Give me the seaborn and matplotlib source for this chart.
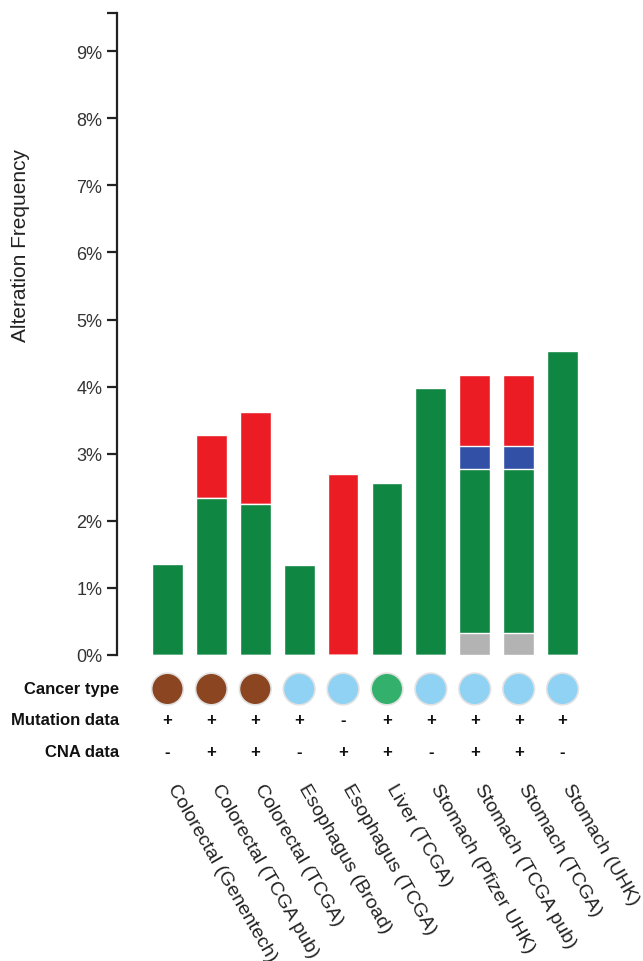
import matplotlib
matplotlib.use("Agg")
import matplotlib.pyplot as plt
import matplotlib.transforms as mtransforms
import numpy as np
import pandas as pd
import seaborn as sns

# Studies shown on the x axis
studies = [
    "Colorectal (Genentech)", "Colorectal (TCGA pub)", "Colorectal (TCGA)",
    "Esophagus (Broad)", "Esophagus (TCGA)", "Liver (TCGA)",
    "Stomach (Pfizer UHK)", "Stomach (TCGA pub)", "Stomach (TCGA)", "Stomach (UHK)",
]

# Alteration frequency (%) per alteration type, stacked bottom to top
multiple_alterations = [0, 0, 0, 0, 0, 0, 0, 0.33, 0.33, 0]
mutation = [1.36, 2.34, 2.25, 1.34, 0, 2.56, 3.98, 2.44, 2.44, 4.53]
deep_deletion = [0, 0, 0, 0, 0, 0, 0, 0.34, 0.34, 0]
amplification = [0, 0.94, 1.37, 0, 2.70, 0, 0, 1.06, 1.06, 0]

# Per-study annotations
cancer_type = ["Colorectal", "Colorectal", "Colorectal", "Esophagus", "Esophagus",
               "Liver", "Stomach", "Stomach", "Stomach", "Stomach"]
mutation_data = ["+", "+", "+", "+", "-", "+", "+", "+", "+", "+"]
cna_data = ["-", "+", "+", "-", "+", "+", "-", "+", "+", "-"]

y_ticks = [0, 1, 2, 3, 4, 5, 6, 7, 8, 9]
y_tick_labels = [f"{t}%" for t in y_ticks]

layer_colors = {
    "multiple": "#B3B3B3",
    "mutation": "#0F8642",
    "deletion": "#3250A6",
    "amplification": "#EC1C24",
}
type_colors = {
    "Colorectal": "#8B4621",
    "Esophagus": "#8FD2F3",
    "Liver": "#33B06B",
    "Stomach": "#8FD2F3",
}

sns.set_style("white")
plt.rcParams["font.family"] = ["Liberation Sans", "DejaVu Sans"]

W, H = 643, 962
fig = plt.figure(figsize=(W / 100, H / 100), dpi=100)

ax_left, ax_right, ax_top, ax_bottom = 117, 584.5, 14, 656
ax = fig.add_axes([ax_left / W, 1 - ax_bottom / H,
                   (ax_right - ax_left) / W, (ax_bottom - ax_top) / H])

df = pd.DataFrame({
    "study": studies,
    "multiple": multiple_alterations,
    "mutation": mutation,
    "deletion": deep_deletion,
    "amplification": amplification,
})
layers = ["multiple", "mutation", "deletion", "amplification"]
cum = df[layers].cumsum(axis=1).assign(study=studies)

# Draw the tallest cumulative layer first and overlay lower layers on top
for layer in reversed(layers):
    sns.barplot(data=cum, x="study", y=layer, order=studies,
                color=layer_colors[layer], saturation=1, width=0.7,
                edgecolor="white", linewidth=1.0, errorbar=None, ax=ax)

x_min, x_max = -1.15, 9.5
ax.set_xlim(x_min, x_max)
y_top = 9.57
ax.set_ylim(0, y_top)
ax.set_yticks(y_ticks + [y_top])
ax.set_yticklabels(y_tick_labels + [""])
ax.set_xticks([])
ax.set_xlabel("")
ax.set_ylabel("")
for side in ["top", "right", "bottom"]:
    ax.spines[side].set_visible(False)
ax.spines["left"].set_linewidth(1.6)
ax.spines["left"].set_color("#222222")
ax.tick_params(axis="y", direction="out", length=7.5, width=1.6, color="#222222",
               labelsize=13, labelcolor="#333333", pad=3, left=True)

fig.text(21 / W, 1 - 245 / H, "Alteration Frequency", rotation=90,
         ha="center", va="center", fontsize=15, color="#222222")

# Annotation panel below the bars; y is measured in figure pixel rows
ax2 = fig.add_axes([ax_left / W, 0, (ax_right - ax_left) / W, (H - 662) / H])
pos = np.arange(len(studies))
row_type, row_mut, row_cna, row_names = 690, 721, 753, 786

sns.scatterplot(x=pos, y=[row_type] * len(pos), hue=cancer_type, palette=type_colors,
                s=520, edgecolor="#E2E2E2", linewidth=1.2, legend=False, ax=ax2,
                clip_on=False)
ax2.set_xlim(x_min, x_max)
ax2.set_ylim(H, 662)
ax2.axis("off")

for i in pos:
    ax2.text(i, row_mut, mutation_data[i], ha="center", va="center",
             fontsize=12, fontweight="bold", color="#111111")
    ax2.text(i, row_cna, cna_data[i], ha="center", va="center",
             fontsize=12, fontweight="bold", color="#111111")
    ax2.text(i + 0.08, row_names, studies[i], rotation=-60, rotation_mode="anchor",
             ha="left", va="center", fontsize=14, color="#222222", clip_on=False)

blend = mtransforms.blended_transform_factory(ax2.transAxes, ax2.transData)
for label, row in [("Cancer type", row_type), ("Mutation data", row_mut),
                   ("CNA data", row_cna)]:
    ax2.text(0.004, row, label, transform=blend, ha="right", va="center",
             fontsize=12, fontweight="bold", color="#111111")

fig.savefig("out.png", dpi=100)
